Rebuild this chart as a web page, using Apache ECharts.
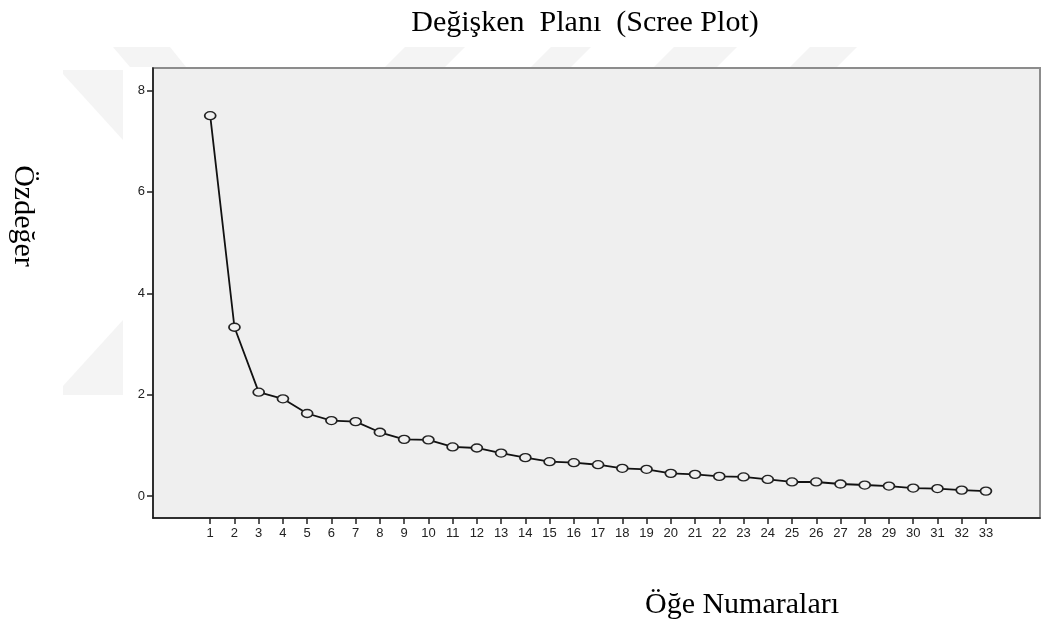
<!DOCTYPE html>
<html>
<head>
<meta charset="utf-8">
<script src="https://cdn.jsdelivr.net/npm/echarts@6.0.0/dist/echarts.min.js"></script>
<style>
  html, body { margin: 0; padding: 0; background: #fff; }
  #chart { width: 1041px; height: 630px; }
</style>
</head>
<body>
<div id="chart"></div>
<script>
// Öğe numaraları (bileşenler) ve özdeğerler
const items = [1, 2, 3, 4, 5, 6, 7, 8, 9, 10, 11, 12, 13, 14, 15, 16, 17, 18, 19, 20,
  21, 22, 23, 24, 25, 26, 27, 28, 29, 30, 31, 32, 33];
const eigenvalues = [7.50, 3.33, 2.05, 1.92, 1.63, 1.49, 1.47, 1.26, 1.12, 1.11,
  0.97, 0.95, 0.85, 0.76, 0.68, 0.66, 0.62, 0.55, 0.53, 0.45,
  0.43, 0.39, 0.38, 0.33, 0.28, 0.28, 0.24, 0.22, 0.20, 0.16,
  0.15, 0.12, 0.10];
const yTicks = [0, 2, 4, 6, 8];

const titleText = 'Değişken  Planı  (Scree Plot)';
const xName = 'Öğe Numaraları';
const yName = 'Özdeğer';

const serif = '"Liberation Serif", "Times New Roman", serif';
const sans = '"Liberation Sans", Arial, sans-serif';
const wm = '#f4f4f4';

const chart = echarts.init(document.getElementById('chart'), null, { renderer: 'canvas' });

chart.setOption({
  backgroundColor: '#fff',
  animation: false,
  graphic: [
    // soluk filigran şekilleri
    { type: 'polygon', z: -10, shape: { points: [[63, 70], [123, 70], [123, 140], [63, 74]] }, style: { fill: wm } },
    { type: 'polygon', z: -10, shape: { points: [[123, 320], [123, 395], [63, 395], [63, 386]] }, style: { fill: wm } },
    { type: 'polygon', z: -10, shape: { points: [[113, 47], [170, 47], [186, 67], [130, 67]] }, style: { fill: wm } },
    { type: 'polygon', z: -10, shape: { points: [[405, 47], [465, 47], [445, 67], [385, 67]] }, style: { fill: wm } },
    { type: 'polygon', z: -10, shape: { points: [[551, 47], [591, 47], [571, 67], [531, 67]] }, style: { fill: wm } },
    { type: 'polygon', z: -10, shape: { points: [[674, 47], [737, 47], [717, 67], [654, 67]] }, style: { fill: wm } },
    { type: 'polygon', z: -10, shape: { points: [[810, 47], [857, 47], [837, 67], [790, 67]] }, style: { fill: wm } },
    {
      type: 'text', x: 585, y: 23,
      style: { text: titleText, font: '30px ' + serif, fill: '#000', align: 'center', verticalAlign: 'middle' }
    },
    {
      type: 'text', x: 742, y: 605,
      style: { text: xName, font: '30px ' + serif, fill: '#000', align: 'center', verticalAlign: 'middle' }
    },
    {
      type: 'text', x: 23, y: 216, rotation: -Math.PI / 2,
      style: { text: yName, font: '30px ' + serif, fill: '#000', align: 'center', verticalAlign: 'middle' }
    }
  ],
  grid: {
    left: 153, top: 68, right: 1, bottom: 112,
    show: true, backgroundColor: '#efefef', borderColor: '#8c8c8c', borderWidth: 2
  },
  xAxis: {
    type: 'value', min: -1.36, max: 35.23,
    axisLine: { show: true, onZero: false, lineStyle: { color: '#111', width: 1.5 } },
    axisTick: { show: true, customValues: items, length: 6, lineStyle: { color: '#222', width: 1.5 } },
    axisLabel: { customValues: items, color: '#222', fontFamily: sans, fontSize: 13, margin: 9 },
    splitLine: { show: false }
  },
  yAxis: {
    type: 'value', min: -0.43, max: 8.44,
    axisLine: { show: true, onZero: false, lineStyle: { color: '#111', width: 1.5 } },
    axisTick: { show: true, customValues: yTicks, length: 6, lineStyle: { color: '#222', width: 1.5 } },
    axisLabel: { customValues: yTicks, color: '#222', fontFamily: sans, fontSize: 13, margin: 8 },
    splitLine: { show: false }
  },
  series: [{
    type: 'line',
    data: items.map((n, i) => [n, eigenvalues[i]]),
    symbol: 'circle',
    symbolSize: [11, 8],
    showAllSymbol: true,
    lineStyle: { color: '#111', width: 1.8 },
    itemStyle: { color: '#efefef', borderColor: '#222', borderWidth: 1.5 }
  }]
});
</script>
</body>
</html>
